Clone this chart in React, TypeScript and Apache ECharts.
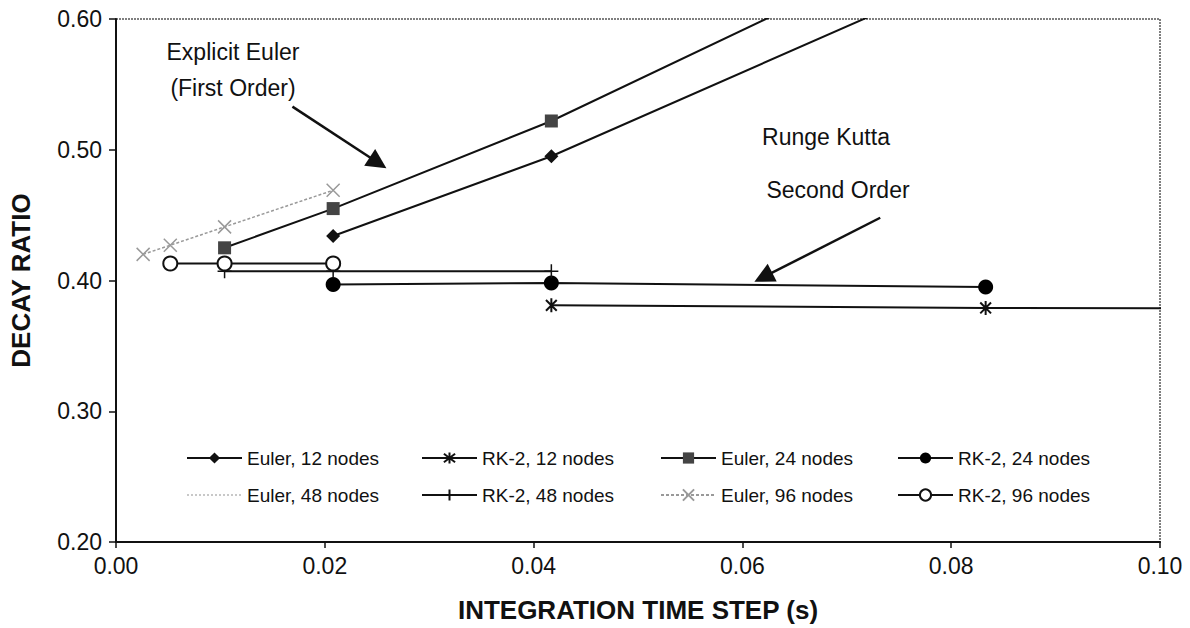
import React, { useEffect, useRef } from "react";
import * as echarts from "echarts";

// Axis ranges / ticks
const xRange = [0, 0.1];
const xStep = 0.02;
const yRange = [0.2, 0.6];
const yStep = 0.1;

// Series names
const names = [
  "Euler, 12 nodes",
  "RK-2, 12 nodes",
  "Euler, 24 nodes",
  "RK-2, 24 nodes",
  "Euler, 48 nodes",
  "RK-2, 48 nodes",
  "Euler, 96 nodes",
  "RK-2, 96 nodes",
];

// Data: [time step (s), decay ratio]
const euler12 = [[0.0208, 0.434], [0.0417, 0.495], [0.0833, 0.641]];
const rk12 = [[0.0417, 0.381], [0.0833, 0.379], [0.1667, 0.378]];
const euler24 = [[0.0104, 0.425], [0.0208, 0.455], [0.0417, 0.522], [0.0833, 0.68]];
const rk24 = [[0.0208, 0.397], [0.0417, 0.398], [0.0833, 0.395]];
const euler48: number[][] = [];
const rk48 = [[0.0104, 0.407], [0.0208, 0.407], [0.0417, 0.407]];
const euler96 = [[0.0026, 0.42], [0.0052, 0.427], [0.0104, 0.441], [0.0208, 0.469]];
const rk96 = [[0.0052, 0.413], [0.0104, 0.413], [0.0208, 0.413]];

// Annotation arrows (data coords): [start, tip]
const eulerArrow = [[0.0169, 0.533], [0.0251, 0.49]];
const rkArrow = [[0.0732, 0.448], [0.062, 0.4025]];

const FONT = "'Liberation Sans', Arial, Helvetica, sans-serif";

const STAR = "path://M-1,-1L1,1M-1,1L1,-1M0,-1.3L0,1.3";
const PLUS = "path://M0,-1L0,1M-1,0L1,0";
const CROSS = "path://M-1,-1L1,1M-1,1L1,-1";

export default function App() {
  const ref = useRef<HTMLDivElement>(null);
  useEffect(() => {
    if (!ref.current) return;
    const chart = echarts.init(ref.current, null, { renderer: "svg" });
    const base = (name: string, data: number[][], color: string, lineStyle: any, symbol: string, symbolSize: any, itemStyle: any) => ({
      name,
      type: "line",
      data,
      clip: true,
      showSymbol: true,
      symbol,
      symbolSize,
      symbolKeepAspect: true,
      lineStyle: { color, width: 2, ...lineStyle },
      itemStyle,
      z: 3,
    });
    const legendCommon = {
      orient: "vertical",
      top: 443,
      itemWidth: 55,
      itemHeight: 14,
      itemGap: 17,
      selectedMode: false,
      textStyle: { fontFamily: FONT, fontSize: 19, color: "#111", lineHeight: 20 },
    };
    const txt = (text: string, x: number, y: number) => ({
      type: "text",
      x,
      y,
      style: { text, fontFamily: FONT, fontSize: 23, fill: "#111", textAlign: "center", textVerticalAlign: "middle" },
    });
    const option: any = {
      animation: false,
      backgroundColor: "#fff",
      grid: {
        left: 116,
        right: 30,
        top: 19,
        bottom: 85,
        show: true,
        borderColor: "#555",
        borderWidth: 1.5,
        borderType: [2, 1],
      },
      xAxis: {
        type: "value",
        min: xRange[0],
        max: xRange[1],
        interval: xStep,
        name: "INTEGRATION TIME STEP (s)",
        nameLocation: "middle",
        nameGap: 55,
        nameTextStyle: { fontFamily: FONT, fontSize: 26, fontWeight: "bold", color: "#111" },
        axisLine: { show: true, lineStyle: { color: "#111", width: 2 } },
        axisTick: { show: true, inside: false, length: 6, lineStyle: { color: "#111", width: 1.5 } },
        axisLabel: { fontFamily: FONT, fontSize: 23, color: "#111", margin: 12, formatter: (v: number) => v.toFixed(2) },
        splitLine: { show: false },
      },
      yAxis: {
        type: "value",
        min: yRange[0],
        max: yRange[1],
        interval: yStep,
        name: "DECAY RATIO",
        nameLocation: "middle",
        nameGap: 82,
        nameRotate: 90,
        nameTextStyle: { fontFamily: FONT, fontSize: 26, fontWeight: "bold", color: "#111" },
        axisLine: { show: true, lineStyle: { color: "#111", width: 2 } },
        axisTick: { show: true, inside: false, length: 7, lineStyle: { color: "#111", width: 1.5 } },
        axisLabel: { fontFamily: FONT, fontSize: 23, color: "#111", margin: 14, formatter: (v: number) => v.toFixed(2) },
        splitLine: { show: false },
      },
      legend: [
        { ...legendCommon, left: 181, data: [names[0], names[4]] },
        { ...legendCommon, left: 416, data: [names[1], names[5]] },
        { ...legendCommon, left: 655, data: [names[2], names[6]] },
        { ...legendCommon, left: 892, data: [names[3], names[7]] },
      ],
      series: [
        {
          ...base(names[0], euler12, "#111", {}, "diamond", 14, { color: "#111" }),
          markLine: {
            silent: true,
            symbol: ["none", "triangle"],
            symbolSize: [20, 20],
            lineStyle: { color: "#111", width: 2.5, type: "solid" },
            label: { show: false },
            data: [
              [{ coord: eulerArrow[0] }, { coord: eulerArrow[1] }],
              [{ coord: rkArrow[0] }, { coord: rkArrow[1] }],
            ],
          },
        },
        base(names[1], rk12, "#111", {}, STAR, 14, { color: "#111", borderColor: "#111", borderWidth: 2 }),
        base(names[2], euler24, "#111", {}, "rect", 13, { color: "#444" }),
        base(names[3], rk24, "#111", {}, "circle", 15, { color: "#000" }),
        base(names[4], euler48, "#c8c8c8", { type: "dotted", width: 1.5 }, "circle", 1, { color: "rgba(0,0,0,0)", opacity: 0 }),
        base(names[5], rk48, "#111", {}, PLUS, 14, { color: "#111", borderColor: "#111", borderWidth: 1.5 }),
        base(names[6], euler96, "#999", { type: [3, 2], width: 1.5 }, CROSS, 13, { color: "#999", borderColor: "#999", borderWidth: 1.5 }),
        base(names[7], rk96, "#111", {}, "circle", 14, { color: "#fff", borderColor: "#111", borderWidth: 2 }),
      ],
      graphic: [
        txt("Explicit Euler", 233, 52),
        txt("(First Order)", 233, 88),
        txt("Runge Kutta", 826, 137),
        txt("Second Order", 838, 190),
      ],
    };
    chart.setOption(option);
    return () => chart.dispose();
  }, []);
  return <div ref={ref} style={{ width: 1190, height: 628, position: "absolute", left: 0, top: 0 }} />;
}
